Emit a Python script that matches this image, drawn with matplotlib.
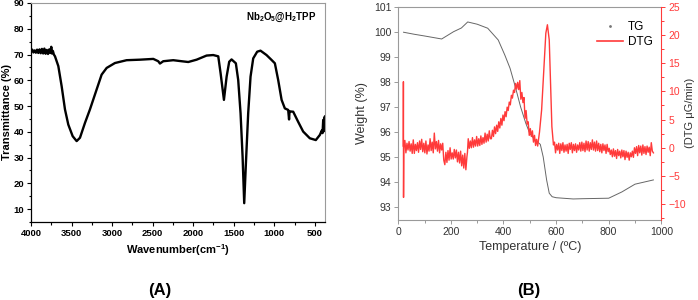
import matplotlib
matplotlib.use("Agg")
import matplotlib.pyplot as plt
from matplotlib.ticker import MultipleLocator
from matplotlib.lines import Line2D

plt.rcParams.update({
    "font.family": ["Liberation Sans", "DejaVu Sans"],
    "mathtext.fontset": "custom",
    "mathtext.rm": "Liberation Sans",
    "mathtext.bf": "Liberation Sans:bold",
})

# ---------- (A) FTIR spectrum ----------
wavenumber = [4000, 3985, 3970, 3955, 3940, 3925, 3910, 3895, 3880, 3865, 3850, 3835, 3820,
              3805, 3790, 3775, 3760, 3750, 3742, 3730, 3718,
              3704, 3663, 3622, 3581, 3540, 3486, 3437, 3396, 3334, 3273, 3191, 3129, 3067,
              2965, 2821, 2657, 2492, 2431, 2410, 2369, 2246, 2143, 2061, 1958, 1835, 1753,
              1691, 1662, 1621, 1588, 1556, 1527, 1474, 1445, 1416, 1391, 1371, 1350, 1322,
              1293, 1260, 1211, 1170, 1096, 1034, 993, 952, 910, 870, 829, 818, 812, 800,
              767, 706, 644, 562, 488, 438, 415, 405, 397, 390, 385, 377]
transmittance = [71.3, 71.9, 70.8, 71.6, 70.7, 71.9, 70.6, 72.0, 70.5, 72.2, 70.4, 72.3, 70.3,
                 71.8, 70.2, 72.0, 70.6, 73.0, 70.4, 71.4, 70.0,
                 69.3, 65.5, 57.7, 48.7, 42.8, 38.3, 36.4, 37.7, 43.5, 48.7, 56.4, 62.2, 64.8,
                 66.7, 67.8, 68.0, 68.3, 67.4, 66.5, 67.4, 67.8, 67.4, 67.1, 68.0, 69.6, 69.8,
                 69.3, 62.7, 52.4, 61.4, 67.2, 68.1, 66.6, 60.1, 47.2, 30.4, 12.3, 27.8, 47.2,
                 61.4, 68.5, 71.1, 71.5, 69.8, 67.9, 66.6, 60.1, 52.4, 49.1, 48.5, 44.8, 48.0,
                 47.9, 47.8, 43.9, 40.1, 37.5, 36.8, 38.8, 40.5, 39.5, 44.6, 40.2, 45.5, 45.9]

# ---------- (B) TG / DTG ----------
tg_temp = [20, 60, 100, 165, 210, 240, 264, 300, 340, 380, 405, 425, 445, 465, 485, 500,
           520, 540, 551, 564, 574, 585, 600, 665, 700, 800, 850, 900, 970]
tg_weight = [99.98, 99.9, 99.83, 99.71, 100.0, 100.15, 100.39, 100.3, 100.14, 99.67, 99.07,
             98.54, 97.8, 97.0, 96.34, 95.94, 95.68, 95.5, 95.0, 94.08, 93.55, 93.41, 93.37,
             93.32, 93.33, 93.35, 93.6, 93.91, 94.08]

dtg_temp = [19, 19.5, 20, 21,
            25, 29, 33, 37, 41, 45, 49, 53, 57, 61, 65, 69, 73, 77, 81, 85, 89, 93, 97, 101,
            105, 109, 113, 117, 121, 125, 129, 133, 137, 141, 145, 149, 153, 157, 161, 165, 169,
            173, 177, 181, 185, 189, 193, 197, 201, 205, 209, 213, 217, 221, 225, 229, 233,
            237, 241, 245, 249, 253, 257, 261, 263,
            266, 270, 274, 278, 282, 286, 290, 294, 298, 302, 306, 310, 314, 318, 322, 326,
            330, 334, 338, 342, 346, 350,
            354, 358, 362, 366, 370, 374, 378, 382, 386, 390, 394, 398, 402, 406, 410, 414,
            418, 422, 426, 430, 434, 438, 442, 446,
            450, 454, 458, 462, 466, 470, 474, 478, 482, 486, 490, 494, 498, 502, 506, 510,
            514, 518, 522, 526, 530, 534, 537,
            545, 554, 561, 567, 574, 579, 584, 590,
            594, 598, 602, 606, 610, 614, 618, 622, 626, 630, 634, 638, 642, 646, 650, 654,
            658, 662, 666, 670, 674, 678, 682, 686, 690, 694, 698, 702, 706, 710, 714, 718,
            722, 726, 730, 734, 738, 742, 746, 750, 754, 758, 762, 766, 770, 774, 778, 782,
            786, 790, 794, 798,
            802, 806, 810, 814, 818, 822, 826, 830, 834, 838, 842, 846, 850, 854, 858, 862,
            866, 870, 874, 878, 882, 886, 890, 894, 898,
            902, 906, 910, 914, 918, 922, 926, 930, 934, 938, 942, 946, 950, 954, 958, 962,
            966, 970]
dtg = [0.3, 11.7, -8.8, 0.5,
       1.3, -0.9, 0.8, -0.4, 1.1, -0.6, 0.7, -1.0, 1.4, -1.0, 0.6, -0.5, 0.9, -0.8, 1.2, -0.3,
       1.5, -0.7, 0.8, -0.9, 1.2, -1.1, 0.5, -0.6, 1.6, -0.5, 1.0, -0.9, 2.6, -0.2, 1.1, -0.6,
       1.3, -0.9, 0.7, -0.4, 0.8,
       -2.2, -3.0, -0.8, -2.6, -0.5, -2.2, 0.0, -2.0, -0.9, -2.0, -0.3, -1.8, -0.4, -2.5,
       -0.8, -2.7, -0.6, -3.2, -1.3, -3.6, -1.0, -3.9, -1.6, -0.8,
       1.6, -0.1, 1.2, 0.0, 1.8, 0.1, 1.4, 0.3, 2.0, 0.3, 1.6, 0.4, 2.1, 0.6, 1.8, 0.8,
       2.6, 1.0, 2.4, 1.2, 3.0, 1.6,
       1.6, 3.1, 2.0, 3.7, 2.5, 4.0, 2.9, 4.6, 3.5, 5.2, 4.0, 5.8, 4.8, 6.4, 5.5, 7.2,
       6.6, 8.1, 7.6, 9.3, 8.8, 10.2, 9.8, 11.4,
       10.4, 11.6, 10.3, 11.9, 8.6, 9.8, 8.0, 8.9, 5.2, 6.6, 4.2, 4.6, 2.2, 3.4, 2.0, 3.0,
       1.0, 2.2, 0.4, 1.5, 0.3, 1.8, 2.8,
       6.7, 14.4, 20.3, 21.8, 19.1, 11.4, 3.75, 0.5,
       1.0, -0.9, 0.6, -0.4, 0.8, -1.0, 0.7, -0.5, 0.9, -0.8, 0.5, -0.6, 0.6, -1.0, 0.8, -0.3,
       0.9, -0.9, 0.6, -0.5, 0.7, -0.8, 0.5, -0.4, 0.9, -0.6, 1.0, -0.5, 0.8, -0.7, 1.2, -0.4,
       1.1, -0.6, 0.9, -0.3, 1.4, -0.4, 1.0, -0.6, 1.2, -0.5, 0.8, -0.7, 0.6, -0.9, 0.7, -0.5,
       0.5, -1.0, 0.6, -0.7,
       -0.1, -1.2, -0.4, -1.6, -0.2, -1.5, -0.5, -1.9, -0.3, -1.4, -0.6, -1.8, -0.4, -1.6,
       -0.5, -2.1, -0.6, -1.7, -0.8, -2.2, -0.9, -1.6, -0.6, -1.7, 0.0,
       -1.0, 0.2, -1.4, 0.4, -0.9, 0.3, -1.3, 0.5, -1.0, 0.2, -1.2, 0.3, -0.8, 0.1, -1.4,
       0.9, -0.6, -0.9]

RED = "#ff3a3a"
GRAY = "#9a9a9a"

fig = plt.figure(figsize=(6.98, 3.0), dpi=100, facecolor="white")

# ----- panel A -----
ax = fig.add_axes([0.0444, 0.26, 0.4212, 0.73])
ax.plot(wavenumber, transmittance, color="black", lw=1.7, solid_joinstyle="round")
ax.set_xlim(4000, 375)
ax.set_ylim(5, 90)
ax.set_yticks(range(10, 91, 10))
ax.xaxis.set_major_locator(MultipleLocator(500))
ax.xaxis.set_minor_locator(MultipleLocator(250))
ax.yaxis.set_minor_locator(MultipleLocator(5))
ax.tick_params(which="both", direction="out", labelsize=6.8, width=0.8, pad=2)
ax.tick_params(which="major", length=3)
ax.tick_params(which="minor", length=1.8)
for lab in ax.get_xticklabels() + ax.get_yticklabels():
    lab.set_fontweight("bold")
for s in ["top", "right"]:
    ax.spines[s].set_color(GRAY)
for s in ["left", "bottom"]:
    ax.spines[s].set_linewidth(0.9)
ax.set_xlabel("Wavenumber(cm$^{\\mathbf{-1}}$)", fontsize=8, fontweight="bold", labelpad=3)
ax.set_ylabel("Transmittance (%)", fontsize=8, fontweight="bold", labelpad=1)
ax.text(0.97, 0.965, "Nb$_\\mathbf{2}$O$_\\mathbf{5}$@H$_\\mathbf{2}$TPP", transform=ax.transAxes,
        ha="right", va="top", fontsize=7, fontweight="bold")

# ----- panel B -----
bx = fig.add_axes([0.5706, 0.2667, 0.3768, 0.711])
bx.plot(tg_temp, tg_weight, color="#666666", lw=0.7)
bx.set_xlim(0, 1000)
bx.set_ylim(92.48, 101)
bx.set_yticks(range(93, 102))
bx.xaxis.set_major_locator(MultipleLocator(200))
bx.xaxis.set_minor_locator(MultipleLocator(100))
bx.tick_params(which="both", direction="out", labelsize=7.5, labelcolor="#333333",
               color=GRAY, width=0.7, pad=2)
bx.tick_params(which="major", length=3)
bx.tick_params(which="minor", length=1.8)
for s in ["left", "bottom", "top"]:
    bx.spines[s].set_color(GRAY)
bx.spines["right"].set_visible(False)
bx.set_xlabel("Temperature / (ºC)", fontsize=9, color="#333333", labelpad=3)
bx.set_ylabel("Weight (%)", fontsize=9, color="#333333", labelpad=4)

rx = bx.twinx()
rx.plot(dtg_temp, dtg, color=RED, lw=1.0)
rx.set_ylim(-12.8, 25)
rx.set_yticks(range(-10, 26, 5))
rx.yaxis.set_minor_locator(MultipleLocator(2.5))
rx.tick_params(which="both", direction="out", labelsize=7.5, labelcolor=RED, color=RED,
               width=0.7, pad=2)
rx.tick_params(which="major", length=3)
rx.tick_params(which="minor", length=1.8)
rx.spines["right"].set_color(RED)
for s in ["left", "bottom", "top"]:
    rx.spines[s].set_visible(False)
rx.set_ylabel("(DTG μG/min)", fontsize=8, color="#333333")
rx.yaxis.set_label_coords(1.09, 0.5)

handles = [Line2D([], [], color="#777777", marker=".", markersize=2, lw=0),
           Line2D([], [], color=RED, lw=1.2)]
rx.legend(handles, ["TG", "DTG"], loc="upper right", bbox_to_anchor=(1.0, 0.97),
          frameon=False, fontsize=8.5, handlelength=2.2, handletextpad=0.4,
          labelspacing=0.25, borderpad=0.2)

fig.text(0.229, 0.033, "(A)", ha="center", va="center", fontsize=12, fontweight="bold")
fig.text(0.757, 0.033, "(B)", ha="center", va="center", fontsize=12, fontweight="bold")

fig.savefig("out.png", dpi=100, facecolor="white")
